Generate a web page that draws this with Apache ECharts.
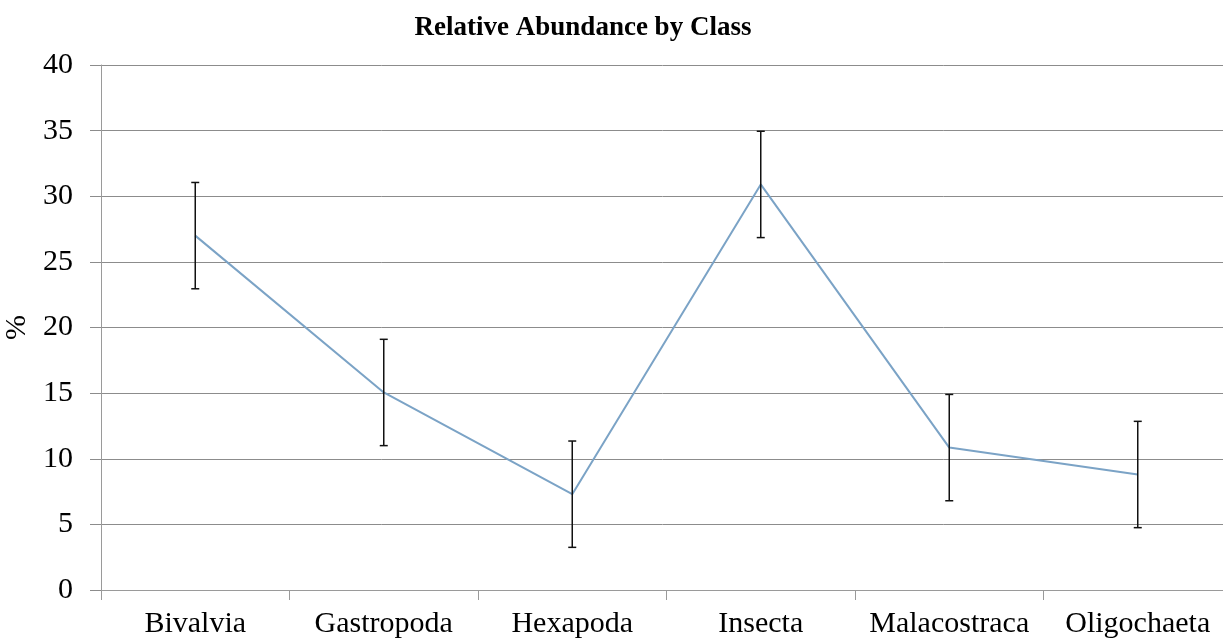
<!DOCTYPE html>
<html>
<head>
<meta charset="utf-8">
<script src="https://cdn.jsdelivr.net/npm/echarts@6/dist/echarts.min.js"></script>
<style>
  html, body { margin: 0; padding: 0; background: #fff; }
  #chart { width: 1223px; height: 640px; }
</style>
</head>
<body>
<div id="chart"></div>
<script>
// classes on the x axis
var classes = ['Bivalvia', 'Gastropoda', 'Hexapoda', 'Insecta', 'Malacostraca', 'Oligochaeta'];
// relative abundance (%)
var abundance = [27.0, 15.05, 7.3, 30.9, 10.85, 8.8];
// error bar half-widths (%)
var errors = [4.05, 4.05, 4.05, 4.05, 4.05, 4.05];

var errorData = classes.map(function (c, i) {
    return [i, abundance[i] - errors[i], abundance[i] + errors[i]];
});

var serif = '"Liberation Serif", "DejaVu Serif", serif';

var chart = echarts.init(document.getElementById('chart'));
chart.setOption({
    backgroundColor: '#fff',
    animation: false,
    title: {
        text: 'Relative Abundance by Class',
        left: 578,
        top: 10,
        textAlign: 'center',
        textStyle: { fontFamily: serif, fontSize: 27, fontWeight: 'bold', color: '#000' }
    },
    grid: { left: 101, right: -9, top: 65, bottom: 50, containLabel: false, outerBoundsMode: 'none' },
    xAxis: {
        type: 'category',
        data: classes,
        boundaryGap: true,
        axisLine: { lineStyle: { color: '#9a9a9a', width: 1 } },
        axisTick: { show: true, length: 10, lineStyle: { color: '#9a9a9a' } },
        axisLabel: { fontFamily: serif, fontSize: 30, color: '#000', margin: 19, interval: 0, hideOverlap: false }
    },
    yAxis: {
        type: 'value',
        min: 0,
        max: 40,
        interval: 5,
        name: '%',
        nameLocation: 'middle',
        nameGap: 66,
        nameRotate: 90,
        nameTextStyle: { fontFamily: serif, fontSize: 30, color: '#000' },
        axisLine: { show: true, lineStyle: { color: '#9a9a9a', width: 1 } },
        axisTick: { show: true, length: 11, lineStyle: { color: '#8c8c8c' } },
        axisLabel: { fontFamily: serif, fontSize: 30, color: '#000', margin: 28 },
        splitLine: { lineStyle: { color: '#8c8c8c', width: 1 } }
    },
    series: [
        {
            type: 'line',
            data: abundance,
            symbol: 'none',
            lineStyle: { color: '#7ba3c6', width: 2 },
            z: 2
        },
        {
            type: 'custom',
            data: errorData,
            z: 3,
            renderItem: function (params, api) {
                var x = api.value(0);
                var lo = api.coord([x, api.value(1)]);
                var hi = api.coord([x, api.value(2)]);
                var cap = 4;
                var style = { stroke: '#111', lineWidth: 1.5 };
                return {
                    type: 'group',
                    children: [
                        { type: 'line', shape: { x1: lo[0], y1: lo[1], x2: hi[0], y2: hi[1] }, style: style },
                        { type: 'line', shape: { x1: lo[0] - cap, y1: lo[1], x2: lo[0] + cap, y2: lo[1] }, style: style },
                        { type: 'line', shape: { x1: hi[0] - cap, y1: hi[1], x2: hi[0] + cap, y2: hi[1] }, style: style }
                    ]
                };
            }
        }
    ]
});
</script>
</body>
</html>
